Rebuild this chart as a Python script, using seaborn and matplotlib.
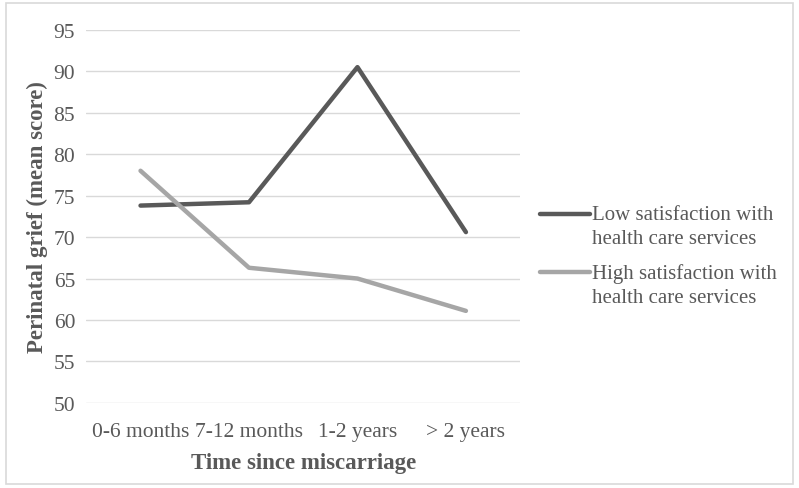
import pandas as pd
import matplotlib.pyplot as plt
import seaborn as sns
from matplotlib.patches import Rectangle

# data
periods = ['0-6 months', '7-12 months', '1-2 years', '> 2 years']
low_sat = [73.8, 74.2, 90.5, 70.6]
high_sat = [78.0, 66.3, 65.0, 61.1]
series_names = ['Low satisfaction with\nhealth care services',
                'High satisfaction with\nhealth care services']

df = pd.DataFrame({
    'period': periods * 2,
    'score': low_sat + high_sat,
    'group': [series_names[0]] * 4 + [series_names[1]] * 4,
})

sns.set_style('white')
plt.rcParams['font.family'] = ['Liberation Serif', 'DejaVu Serif']
txt = '#595959'

fig = plt.figure(figsize=(7.99, 4.89), dpi=100)
ax = fig.add_axes([0.108, 0.174, 0.543, 0.763])

sns.lineplot(data=df, x='period', y='score', hue='group', sort=False,
             palette=['#595959', '#a6a6a6'], linewidth=3.2, ax=ax)

ax.set_ylim(50, 95)
ax.set_yticks(range(50, 100, 5))
ax.set_xlim(-0.5, 3.5)
ax.grid(axis='y', color='#d9d9d9', linewidth=1)
ax.set_axisbelow(True)
for s in ax.spines.values():
    s.set_visible(False)
ax.tick_params(axis='both', length=0, labelsize=15.5, colors=txt)
ax.tick_params(axis='x', pad=14)
ax.tick_params(axis='y', pad=8)

ax.set_xlabel('Time since miscarriage', fontsize=16.5, fontweight='bold', color=txt, labelpad=8)
ax.set_ylabel('Perinatal grief (mean score)', fontsize=16.5, fontweight='bold', color=txt, labelpad=4)

leg = ax.legend(loc='center left', bbox_to_anchor=(1.002, 0.394), frameon=False,
                fontsize=15, handlelength=2.4, handletextpad=0.1, labelspacing=0.7)
for t in leg.get_texts():
    t.set_color(txt)
    t.set_linespacing(1.4)
# put the legend stroke level with the first text line, as in the original
for h in leg.get_lines():
    h.set_linewidth(3.2)
    h.set_ydata(h.get_ydata() + 9)

fig.patches.append(Rectangle((0.008, 0.008), 0.984, 0.984, transform=fig.transFigure,
                             fill=False, edgecolor='#d9d9d9', linewidth=1.2))

fig.savefig('out.png', dpi=100)
